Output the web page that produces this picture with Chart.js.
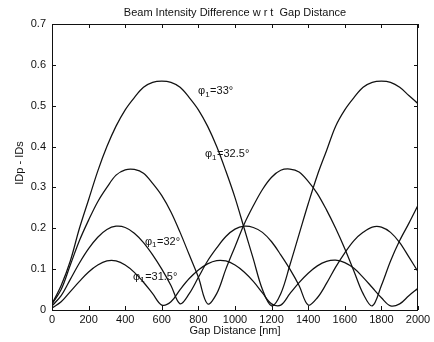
<!DOCTYPE html>
<html>
<head>
<meta charset="utf-8">
<script src="https://cdn.jsdelivr.net/npm/chart.js@4.4.1/dist/chart.umd.min.js"></script>
<style>
  body { margin: 0; background: #fff; }
  canvas { display: block; }
</style>
</head>
<body>
<canvas id="gapChart" width="434" height="342"></canvas>
<script>
/* ===============================
   DATA
================================ */
const gapNm = [
  0, 50, 100, 150, 200, 250, 300, 350, 400, 450,
  500, 550, 600, 650, 700, 750, 800, 850, 900, 950,
  1000, 1050, 1100, 1150, 1200, 1250, 1300, 1350, 1400, 1450,
  1500, 1550, 1600, 1650, 1700, 1750, 1800, 1850, 1900, 1950, 2000,
];

const phi33 = [
  0.015, 0.06, 0.12, 0.2, 0.27, 0.34, 0.4, 0.45, 0.49, 0.52,
  0.545, 0.557, 0.56, 0.557, 0.545, 0.52, 0.49, 0.45, 0.4, 0.34,
  0.275, 0.2, 0.125, 0.05, 0.01, 0.04, 0.11, 0.185, 0.26, 0.33,
  0.39, 0.45, 0.49, 0.52, 0.545, 0.557, 0.56, 0.557, 0.545, 0.525, 0.505,
];

const phi325 = [
  0.015, 0.05, 0.11, 0.17, 0.22, 0.265, 0.3, 0.33, 0.343, 0.344,
  0.335, 0.31, 0.28, 0.24, 0.19, 0.135, 0.08, 0.015, 0.04, 0.1,
  0.155, 0.21, 0.255, 0.295, 0.325, 0.342, 0.345, 0.338, 0.315, 0.285,
  0.245, 0.2, 0.15, 0.095, 0.04, 0.01, 0.06, 0.12, 0.17, 0.212, 0.256,
];

const phi32 = [
  0.01, 0.035, 0.075, 0.115, 0.15, 0.178, 0.197, 0.205, 0.202, 0.188,
  0.165, 0.135, 0.1, 0.06, 0.015, 0.04, 0.08, 0.12, 0.152, 0.18,
  0.198, 0.205, 0.202, 0.19, 0.167, 0.135, 0.1, 0.06, 0.012, 0.03,
  0.065, 0.105, 0.14, 0.17, 0.19, 0.203, 0.203, 0.19, 0.165, 0.13, 0.094,
];

const phi315 = [
  0.005, 0.02, 0.045, 0.07, 0.093, 0.11, 0.12, 0.12, 0.11, 0.092,
  0.068, 0.04, 0.012, 0.02, 0.05, 0.077, 0.098, 0.113, 0.121, 0.12,
  0.11, 0.093, 0.07, 0.042, 0.015, 0.012, 0.04, 0.067, 0.09, 0.108,
  0.119, 0.122, 0.116, 0.102, 0.08, 0.055, 0.03, 0.01, 0.015, 0.035, 0.053,
];

const xTicks = [0, 200, 400, 600, 800, 1000, 1200, 1400, 1600, 1800, 2000];
const yTicks = [0, 0.1, 0.2, 0.3, 0.4, 0.5, 0.6, 0.7];

// curve labels: [angle text, x (nm), y (value)]
const curveLabels = [
  ['33°', 798, 0.535],
  ['32.5°', 836, 0.381],
  ['32°', 508, 0.166],
  ['31.5°', 443, 0.081],
];

/* ===============================
   HELPERS
================================ */
const FONT = '"Liberation Sans", Arial, sans-serif';
const INK = '#111';

function toPoints(values) {
  return gapNm.map((x, i) => ({ x: x, y: values[i] }));
}

function curve(values) {
  return {
    data: toPoints(values),
    borderColor: INK,
    borderWidth: 1.25,
    pointRadius: 0,
    fill: false,
    tension: 0.35,
  };
}

// box, inward ticks, titles and curve labels
const decorPlugin = {
  id: 'decor',
  afterDraw(chart) {
    const ctx = chart.ctx;
    const a = chart.chartArea;
    const xs = chart.scales.x;
    const ys = chart.scales.y;
    const tick = 4;

    ctx.save();
    ctx.strokeStyle = INK;
    ctx.lineWidth = 1;
    ctx.strokeRect(a.left + 0.5, a.top + 0.5, a.right - a.left - 1, a.bottom - a.top);

    ctx.beginPath();
    xTicks.forEach((v) => {
      const px = Math.round(xs.getPixelForValue(v)) + 0.5;
      ctx.moveTo(px, a.bottom);
      ctx.lineTo(px, a.bottom - tick);
      ctx.moveTo(px, a.top);
      ctx.lineTo(px, a.top + tick);
    });
    yTicks.forEach((v) => {
      const py = Math.round(ys.getPixelForValue(v)) + 0.5;
      ctx.moveTo(a.left, py);
      ctx.lineTo(a.left + tick, py);
      ctx.moveTo(a.right, py);
      ctx.lineTo(a.right - tick, py);
    });
    ctx.stroke();

    ctx.fillStyle = INK;
    ctx.textAlign = 'center';
    ctx.textBaseline = 'middle';
    ctx.font = '11px ' + FONT;
    ctx.fillText('Beam Intensity Difference w r t  Gap Distance', (a.left + a.right) / 2, 13);
    ctx.fillText('Gap Distance [nm]', (a.left + a.right) / 2, 331);

    ctx.save();
    ctx.translate(20, 163);
    ctx.rotate(-Math.PI / 2);
    ctx.fillText('IDp - IDs', 0, 0);
    ctx.restore();

    // phi_1 labels
    ctx.textAlign = 'left';
    curveLabels.forEach(([txt, xv, yv]) => {
      let px = xs.getPixelForValue(xv);
      const py = ys.getPixelForValue(yv);
      ctx.font = '11px ' + FONT;
      ctx.fillText('φ', px, py);
      px += ctx.measureText('φ').width;
      ctx.font = '8px ' + FONT;
      ctx.fillText('1', px, py + 3);
      px += ctx.measureText('1').width + 0.5;
      ctx.font = '11px ' + FONT;
      ctx.fillText('=' + txt, px, py);
    });
    ctx.restore();
  },
};

/* ===============================
   CHART
================================ */
new Chart(document.getElementById('gapChart'), {
  type: 'line',
  data: {
    datasets: [curve(phi33), curve(phi325), curve(phi32), curve(phi315)],
  },
  options: {
    responsive: false,
    animation: false,
    layout: { padding: { top: 24, right: 16, left: 0, bottom: 0 } },
    plugins: {
      legend: { display: false },
      tooltip: { enabled: false },
    },
    scales: {
      x: {
        type: 'linear',
        min: 0,
        max: 2000,
        afterFit: (scale) => { scale.height = 32; },
        afterBuildTicks: (scale) => { scale.ticks = xTicks.map((v) => ({ value: v })); },
        ticks: {
          color: INK,
          font: { family: FONT, size: 11 },
          padding: 3,
          maxRotation: 0,
          callback: (v) => String(v),
        },
        grid: { drawOnChartArea: false, drawTicks: false },
        border: { display: false },
      },
      y: {
        min: 0,
        max: 0.7,
        afterFit: (scale) => { scale.width = 52; },
        afterBuildTicks: (scale) => { scale.ticks = yTicks.map((v) => ({ value: v })); },
        ticks: {
          color: INK,
          font: { family: FONT, size: 11 },
          padding: 6,
          callback: (v) => (v === 0 ? '0' : v.toFixed(1)),
        },
        grid: { drawOnChartArea: false, drawTicks: false },
        border: { display: false },
      },
    },
  },
  plugins: [decorPlugin],
});
</script>
</body>
</html>
